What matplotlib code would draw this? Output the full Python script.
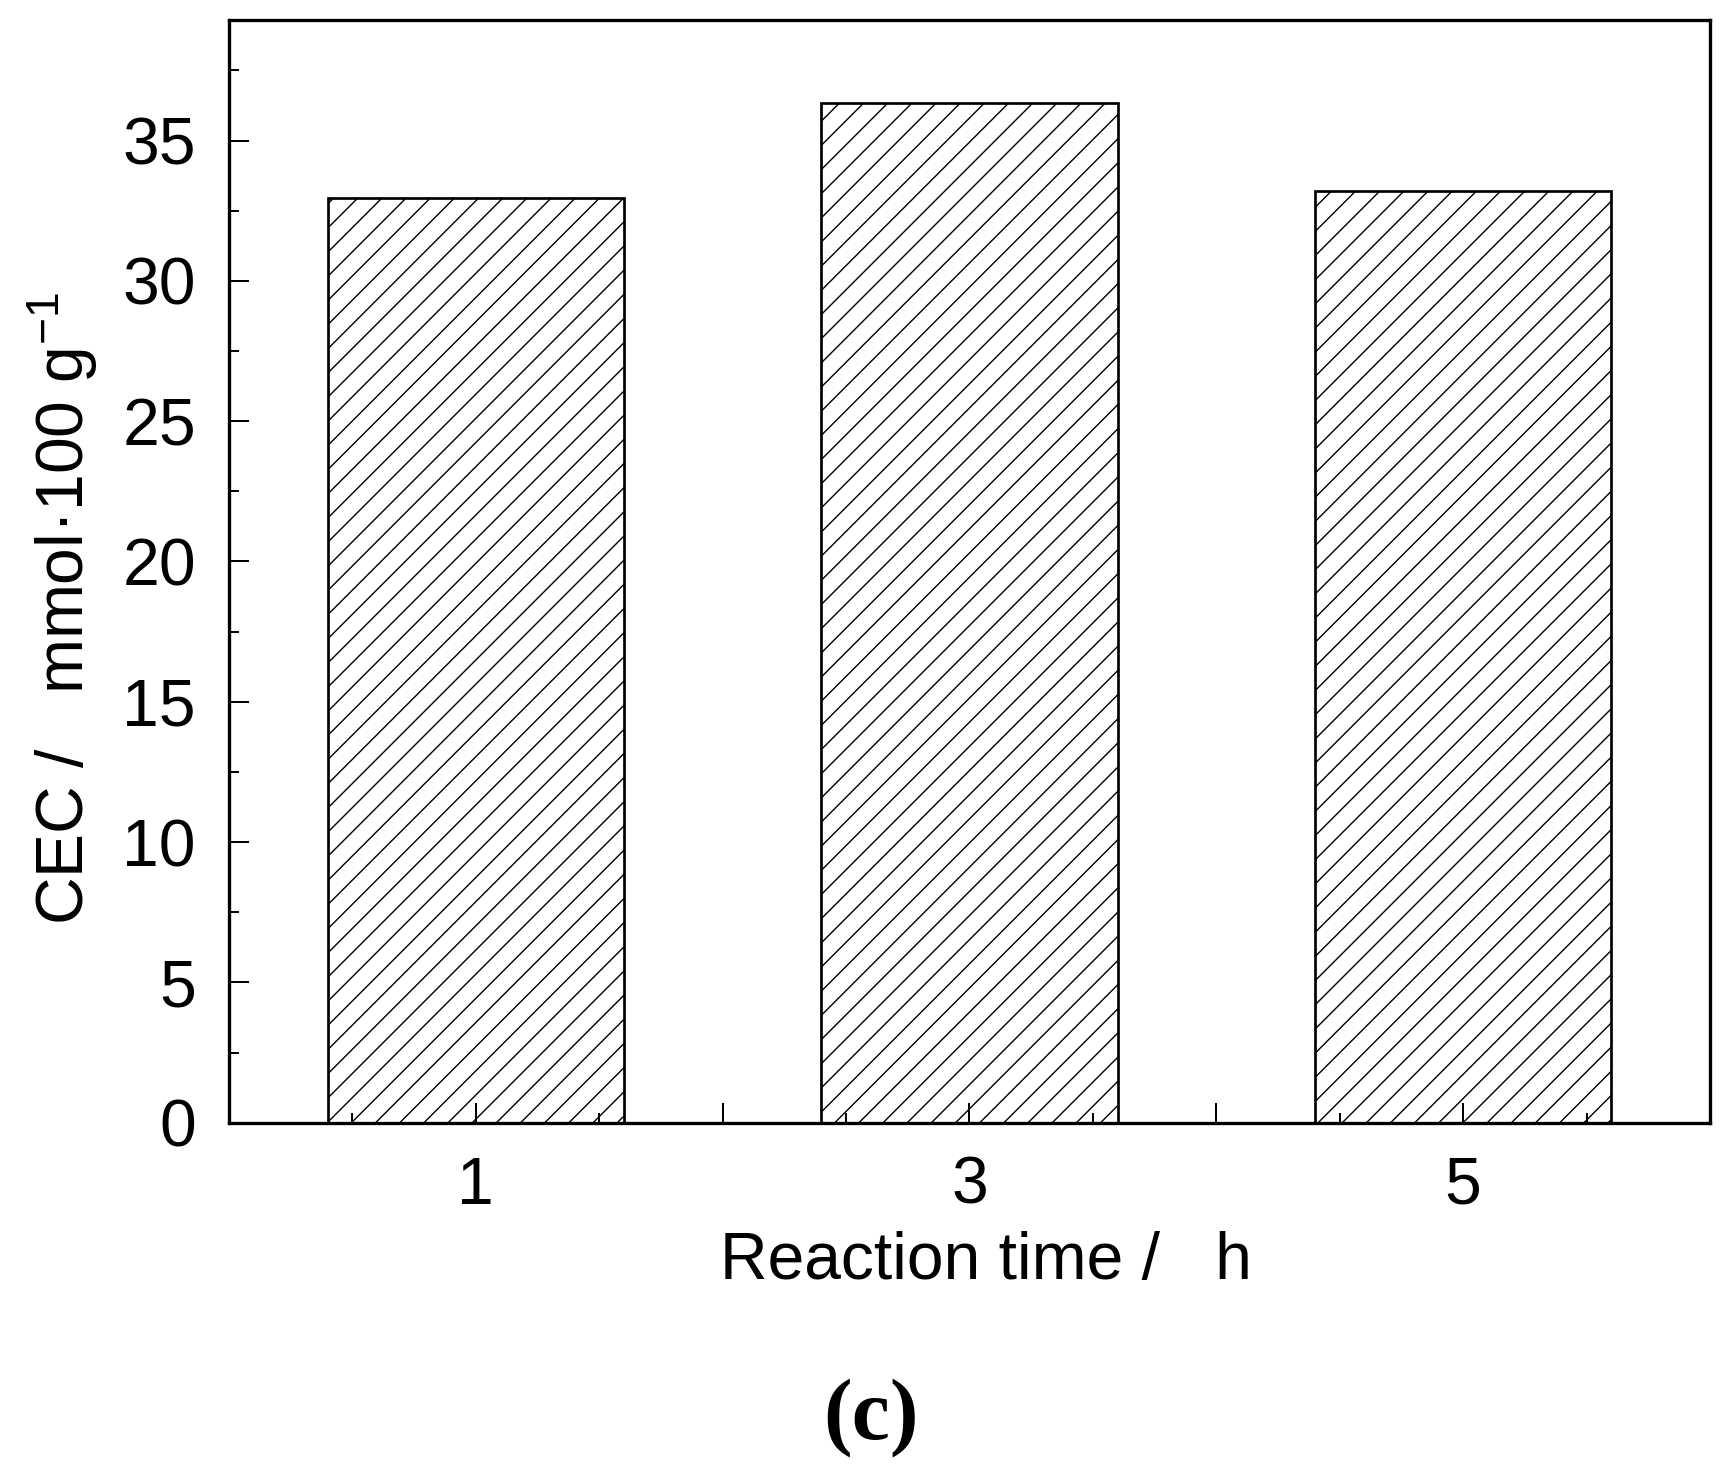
import matplotlib
matplotlib.use('Agg')
import matplotlib.pyplot as plt
from matplotlib.ticker import MultipleLocator

# Daten
reaction_time = [1, 3, 5]
cec_values = [32.95, 36.33, 33.19]
xtick_pos = [1, 2, 3, 4, 5]
xtick_labels = ['1', '', '3', '', '5']

DPI = 145


def pt(px):
    # Pixel -> Punkte bei gegebener DPI
    return px * 72 / DPI


plt.rcParams['font.family'] = ['Liberation Sans', 'DejaVu Sans']
plt.rcParams['mathtext.fontset'] = 'custom'
plt.rcParams['mathtext.rm'] = 'Liberation Sans'
plt.rcParams['mathtext.default'] = 'regular'
plt.rcParams['hatch.linewidth'] = pt(1.4)

fig = plt.figure(figsize=(1724 / DPI, 1480 / DPI), dpi=DPI)
ax = fig.add_axes([0.1327, 0.2414, 0.8592, 0.7452])

ax.bar(reaction_time, cec_values, width=1.2, color='white', edgecolor='black',
       linewidth=pt(2.7), hatch='//')

ax.set_xlim(0, 6)
ax.set_ylim(0, 39.3)
ax.set_xticks(xtick_pos, labels=xtick_labels)
ax.xaxis.set_minor_locator(MultipleLocator(0.5))
ax.yaxis.set_major_locator(MultipleLocator(5))
ax.yaxis.set_minor_locator(MultipleLocator(2.5))

fs = pt(66)
ax.tick_params(which='both', direction='in', top=False, right=False,
               labelsize=fs, width=pt(2))
ax.tick_params(which='major', length=pt(20), pad=pt(33))
ax.tick_params(which='minor', length=pt(10))
for s in ax.spines.values():
    s.set_linewidth(pt(3.3))

ax.set_xlabel('Reaction time /   h', fontsize=fs)
ax.xaxis.set_label_coords(0.511, -0.098)
ax.set_ylabel('CEC /   mmol·100 g$^{-1}$', fontsize=fs)
ax.yaxis.set_label_coords(-0.087, 0.466)

fig.text(871 / 1724, 1 - 1418 / 1480, '(c)', fontsize=pt(86), fontweight='bold',
         family='Liberation Serif', ha='center', va='center')

plt.savefig('out.png', dpi=DPI)
